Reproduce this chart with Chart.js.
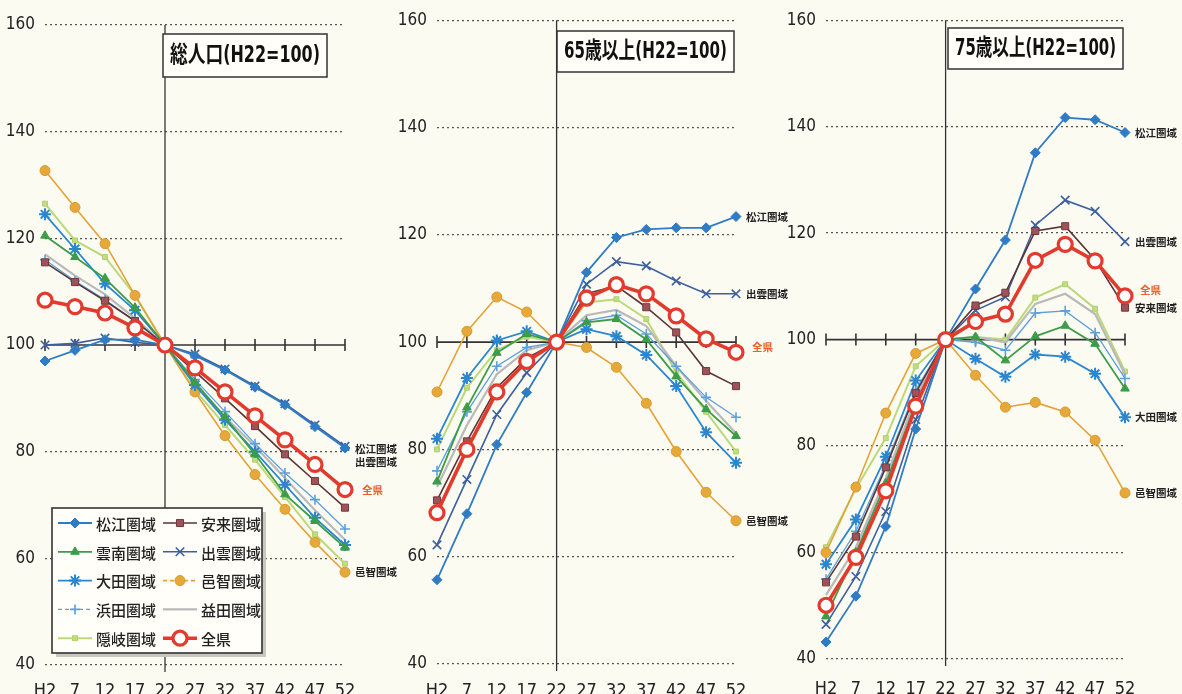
<!DOCTYPE html>
<html>
<head>
<meta charset="utf-8">
<script src="https://cdn.jsdelivr.net/npm/chart.js@4.4.1/dist/chart.umd.min.js"></script>
<style>
  body { margin: 0; background: #fcfbf2; width: 1182px; height: 694px; overflow: hidden; }
  .panel { position: absolute; top: 0; height: 694px; }
</style>
</head>
<body>
<div class="panel" style="left:0;width:400px"><canvas id="c1"></canvas></div>
<div class="panel" style="left:392px;width:398px"><canvas id="c2"></canvas></div>
<div class="panel" style="left:782px;width:400px"><canvas id="c3"></canvas></div>
<script>
const years = ['H2', '7', '12', '17', '22', '27', '32', '37', '42', '47', '52'];
const yTicks = [40, 60, 80, 100, 120, 140, 160];
const seriesNames = ['松江圏域', '安来圏域', '雲南圏域', '出雲圏域', '大田圏域', '邑智圏域', '浜田圏域', '益田圏域', '隠岐圏域', '全県'];

// 総人口 (H22=100)
const totalMatsue = [97, 99, 101, 101, 100, 98, 95.3, 92.1, 88.8, 84.7, 80.7];
const totalYasugi = [115.5, 111.8, 108.3, 104.5, 100, 95, 90, 84.8, 79.5, 74.5, 69.5];
const totalUnnan = [120.5, 116.5, 112.5, 107, 100, 93, 86.5, 79.5, 72, 67, 62];
const totalIzumo = [100, 100.3, 101.3, 100.5, 100, 98.3, 95.5, 92.3, 89, 85, 81];
const totalOda = [124.5, 118, 111.5, 106.5, 100, 92.5, 86, 80, 73.8, 67.6, 62.5];
const totalOchi = [132.7, 125.8, 119, 109.3, 100, 91.2, 83, 75.7, 69.2, 63, 57.4];
const totalHamada = [116, 112, 108.5, 104.5, 100, 93.5, 87.5, 81.5, 76, 71, 65.5];
const totalMasuda = [117, 113, 109.5, 105, 100, 92.5, 86.5, 81, 75, 69, 63.5];
const totalOki = [126.5, 119.6, 116.5, 109.3, 100, 91.5, 85, 78.5, 71.5, 64.5, 59];
const totalKen = [108.4, 107.2, 106, 103.2, 100, 95.7, 91.2, 86.7, 82.2, 77.6, 72.9];

// 65歳以上 (H22=100)
const over65Matsue = [55.7, 68, 80.9, 90.6, 100, 113, 119.5, 121, 121.3, 121.3, 123.4];
const over65Yasugi = [70.5, 81.5, 91.5, 97, 100, 109, 110.5, 106.5, 101.8, 94.6, 91.8];
const over65Unnan = [74, 87.8, 98, 101.5, 100, 103.7, 104.3, 100.5, 93.6, 87.5, 82.5];
const over65Izumo = [62.2, 74.4, 86.5, 94.3, 100, 110.8, 115, 114.2, 111.4, 109, 109];
const over65Oda = [82, 93.3, 100.3, 102, 100, 102.4, 101.1, 97.6, 91.8, 83.2, 77.5];
const over65Ochi = [90.7, 102, 108.4, 105.6, 100, 99, 95.3, 88.6, 79.6, 72, 66.7];
const over65Hamada = [76, 87, 95.5, 99, 100, 104, 105, 101.5, 95.5, 89.7, 86];
const over65Masuda = [73, 84.5, 94, 98.5, 100, 105, 106, 103, 95.5, 89, 83];
const over65Oki = [80, 91.5, 98.5, 101, 100, 107.4, 108, 104.3, 94.4, 87, 79.6];
const over65Ken = [68.2, 80, 90.7, 96.4, 100, 108.2, 110.7, 109, 104.9, 100.6, 98.1];

// 75歳以上 (H22=100)
const over75Matsue = [43.2, 51.8, 64.9, 83.2, 100, 109.5, 118.7, 135.1, 141.7, 141.3, 138.9];
const over75Yasugi = [54.4, 63, 76, 90, 100, 106.4, 108.8, 120.4, 121.3, 115, 106];
const over75Unnan = [48, 60, 73, 88, 100, 100.5, 96.1, 100.6, 102.6, 99.2, 90.8];
const over75Izumo = [46.5, 55.5, 67.7, 85, 100, 105.5, 108, 121.5, 126.2, 124.1, 118.4];
const over75Oda = [57.8, 66.2, 78, 92.3, 100, 96.4, 93, 97.2, 96.8, 93.6, 85.4];
const over75Ochi = [60, 72.3, 86.2, 97.4, 100, 93.3, 87.3, 88.2, 86.4, 81.1, 71.2];
const over75Hamada = [55, 64, 76.5, 90.5, 100, 99.5, 98, 105, 105.4, 101.3, 92.7];
const over75Masuda = [52, 61, 74, 89, 100, 100.5, 99.5, 106.7, 108.6, 104.8, 93.5];
const over75Oki = [61, 72, 81.5, 95, 100, 100.5, 100, 107.9, 110.4, 105.8, 94];
const over75Ken = [50.1, 59.1, 71.6, 87.5, 100, 103.4, 104.8, 114.9, 117.9, 114.8, 108.2];

const NUM_FONT = '"Liberation Sans Narrow", "DejaVu Sans Condensed", sans-serif';
const JP_FONT = '"Noto Sans CJK JP", sans-serif';

// line look for each area, same order as seriesNames
const looks = [
  { line: '#2f7cc5', fill: '#2f7cc5', edge: '#2f7cc5', point: 'rectRot', r: 5, w: 1.8 },
  { line: '#5a3535', fill: '#a0525a', edge: '#6e3a3e', point: 'rect', r: 5, w: 1.6 },
  { line: '#3c9c48', fill: '#3c9c48', edge: '#3c9c48', point: 'triangle', r: 5, w: 1.8 },
  { line: '#3d5f9c', fill: '#3d5f9c', edge: '#3d5f9c', point: 'crossRot', r: 6, w: 1.6, pw: 1.6 },
  { line: '#2a86cf', fill: '#2a86cf', edge: '#2a86cf', point: 'star', r: 6, w: 1.8, pw: 2 },
  { line: '#e4a235', fill: '#e6a838', edge: '#d69a30', point: 'circle', r: 5, w: 1.6, dash: [4, 3] },
  { line: '#5c9fdc', fill: '#5c9fdc', edge: '#5c9fdc', point: 'cross', r: 5, w: 1.3, pw: 1.6, dash: [4, 3] },
  { line: '#b9b9b9', fill: '#b9b9b9', edge: '#b9b9b9', point: 'circle', r: 0, w: 2.2 },
  { line: '#bcd97a', fill: '#c2dd80', edge: '#b0d070', point: 'rect', r: 3.5, w: 2 },
  { line: '#e23a2d', fill: '#ffffff', edge: '#e23a2d', point: 'circle', r: 7, w: 3.6, pw: 3.2 }
];

function makeDatasets(series) {
  return series.map((vals, i) => {
    const k = looks[i];
    return {
      label: seriesNames[i],
      data: vals,
      borderColor: k.line,
      borderWidth: k.w,
      pointStyle: k.point,
      pointRadius: k.r,
      pointBackgroundColor: k.fill,
      pointBorderColor: k.edge,
      pointBorderWidth: k.pw || 1,
      legendDash: k.dash,
      tension: 0,
      clip: false,
      order: i === 9 ? -1 : 0
    };
  });
}

const decor = {
  id: 'decor',
  beforeDatasetsDraw(chart, args, o) {
    const { ctx, chartArea: a, scales: { x, y } } = chart;
    ctx.save();
    ctx.strokeStyle = '#333';
    ctx.lineWidth = 1.3;
    const x22 = x.getPixelForValue(years.indexOf('22'));
    ctx.beginPath();
    ctx.moveTo(x22, a.top);
    ctx.lineTo(x22, a.bottom + 7);
    ctx.stroke();
    const y100 = y.getPixelForValue(100);
    ctx.lineWidth = 1.6;
    ctx.beginPath();
    ctx.moveTo(a.left, y100);
    ctx.lineTo(a.right, y100);
    years.forEach((_, i) => {
      const px = x.getPixelForValue(i);
      ctx.moveTo(px, y100 - 6);
      ctx.lineTo(px, y100 + 6);
    });
    ctx.stroke();
    ctx.restore();
  },
  afterDraw(chart, args, o) {
    const { ctx, chartArea: a, scales: { y } } = chart;
    ctx.save();

    // title box
    const t = o.title;
    ctx.fillStyle = '#fffef9';
    ctx.fillRect(t.x0, t.y0, t.x1 - t.x0, t.y1 - t.y0);
    ctx.strokeStyle = '#333';
    ctx.lineWidth = 1.5;
    ctx.strokeRect(t.x0, t.y0, t.x1 - t.x0, t.y1 - t.y0);
    ctx.font = 'bold 23px ' + NUM_FONT.replace('sans-serif', '') + JP_FONT;
    ctx.fillStyle = '#111';
    ctx.textAlign = 'center';
    ctx.textBaseline = 'middle';
    ctx.fillText(t.text, (t.x0 + t.x1) / 2, (t.y0 + t.y1) / 2 + 1, t.x1 - t.x0 - 14);

    // labels at the end of lines
    ctx.font = 'bold 10.5px ' + JP_FONT;
    ctx.textAlign = 'left';
    o.labels.forEach(l => {
      const ds = chart.data.datasets[l.ds];
      const v = ds.data[ds.data.length - 1];
      ctx.fillStyle = l.color || '#222';
      ctx.fillText(l.text, a.right + (l.dx || 10), y.getPixelForValue(v) + (l.dy || 0));
    });

    // legend box (first panel only)
    if (o.legend) {
      const L = o.legend;
      ctx.fillStyle = '#c8c8c0';
      ctx.fillRect(L.x + 4, L.y + 4, L.w, L.h);
      ctx.fillStyle = '#fffef9';
      ctx.fillRect(L.x, L.y, L.w, L.h);
      ctx.strokeStyle = '#333';
      ctx.lineWidth = 1.6;
      ctx.strokeRect(L.x, L.y, L.w, L.h);
      chart.data.datasets.forEach((ds, i) => {
        const col = i % 2, row = Math.floor(i / 2);
        const lx = L.x + 6 + col * 105, ly = L.y + 15 + row * 28.8;
        ctx.strokeStyle = ds.borderColor;
        ctx.lineWidth = ds.borderWidth;
        ctx.setLineDash(ds.legendDash || []);
        ctx.beginPath();
        ctx.moveTo(lx, ly);
        ctx.lineTo(lx + 34, ly);
        ctx.stroke();
        ctx.setLineDash([]);
        if (ds.pointRadius > 0) {
          ctx.fillStyle = ds.pointBackgroundColor;
          ctx.strokeStyle = ds.pointBorderColor;
          ctx.lineWidth = ds.pointBorderWidth;
          Chart.helpers.drawPoint(ctx, { pointStyle: ds.pointStyle, radius: ds.pointRadius, rotation: 0, borderWidth: ds.pointBorderWidth }, lx + 17, ly);
        }
        ctx.fillStyle = '#222';
        ctx.font = '500 15px ' + JP_FONT;
        ctx.textAlign = 'left';
        ctx.textBaseline = 'middle';
        ctx.fillText(ds.label, lx + 38, ly + 1);
      });
    }
    ctx.restore();
  }
};

function makeChart(id, series, deco, box) {
  return new Chart(document.getElementById(id), {
    type: 'line',
    data: { labels: years, datasets: makeDatasets(series) },
    options: {
      responsive: true,
      maintainAspectRatio: false,
      animation: false,
      layout: { padding: { top: box.top, right: box.right, left: 0, bottom: 0 } },
      plugins: {
        legend: { display: false },
        tooltip: { enabled: false },
        decor: deco
      },
      scales: {
        x: {
          grid: { display: false },
          border: { display: false },
          afterFit: s => { s.height = box.xh; },
          ticks: {
            autoSkip: false, maxRotation: 0, padding: box.xpad,
            color: '#222', font: { family: NUM_FONT, size: 18 }
          }
        },
        y: {
          min: 40, max: 160,
          afterBuildTicks: s => { s.ticks = yTicks.map(v => ({ value: v })); },
          afterFit: s => { s.width = box.yw; },
          grid: {
            drawTicks: false,
            lineWidth: 1.3,
            color: c => c.tick && c.tick.value === 100 ? 'rgba(0,0,0,0)' : '#555'
          },
          border: { display: false, dash: [2, 3] },
          ticks: { padding: 10, color: '#222', font: { family: NUM_FONT, size: 17 } }
        }
      }
    },
    plugins: [decor]
  });
}

makeChart('c1',
  [totalMatsue, totalYasugi, totalUnnan, totalIzumo, totalOda, totalOchi, totalHamada, totalMasuda, totalOki, totalKen],
  {
    title: { text: '総人口(H22=100)', x0: 163, x1: 327, y0: 34, y1: 77 },
    labels: [
      { text: '松江圏域', ds: 0, dy: 1 },
      { text: '出雲圏域', ds: 3, dy: 16 },
      { text: '全県', ds: 9, dx: 17, color: '#e8602a' },
      { text: '邑智圏域', ds: 5 }
    ],
    legend: { x: 52, y: 508, w: 210, h: 145 }
  },
  { top: 25, right: 55, xh: 29, xpad: 8, yw: 45 });

makeChart('c2',
  [over65Matsue, over65Yasugi, over65Unnan, over65Izumo, over65Oda, over65Ochi, over65Hamada, over65Masuda, over65Oki, over65Ken],
  {
    title: { text: '65歳以上(H22=100)', x0: 165, x1: 342, y0: 31, y1: 72 },
    labels: [
      { text: '松江圏域', ds: 0 },
      { text: '出雲圏域', ds: 3 },
      { text: '全県', ds: 9, dx: 16, dy: -5, color: '#e8602a' },
      { text: '邑智圏域', ds: 5 }
    ]
  },
  { top: 20, right: 54, xh: 30, xpad: 9, yw: 45 });

makeChart('c3',
  [over75Matsue, over75Yasugi, over75Unnan, over75Izumo, over75Oda, over75Ochi, over75Hamada, over75Masuda, over75Oki, over75Ken],
  {
    title: { text: '75歳以上(H22=100)', x0: 166, x1: 341, y0: 28, y1: 69 },
    labels: [
      { text: '松江圏域', ds: 0 },
      { text: '出雲圏域', ds: 3 },
      { text: '全県', ds: 9, dx: 15, dy: -6, color: '#e8602a' },
      { text: '安来圏域', ds: 1 },
      { text: '大田圏域', ds: 4 },
      { text: '邑智圏域', ds: 5 }
    ]
  },
  { top: 18, right: 57, xh: 35, xpad: 12, yw: 44 });
</script>
</body>
</html>
